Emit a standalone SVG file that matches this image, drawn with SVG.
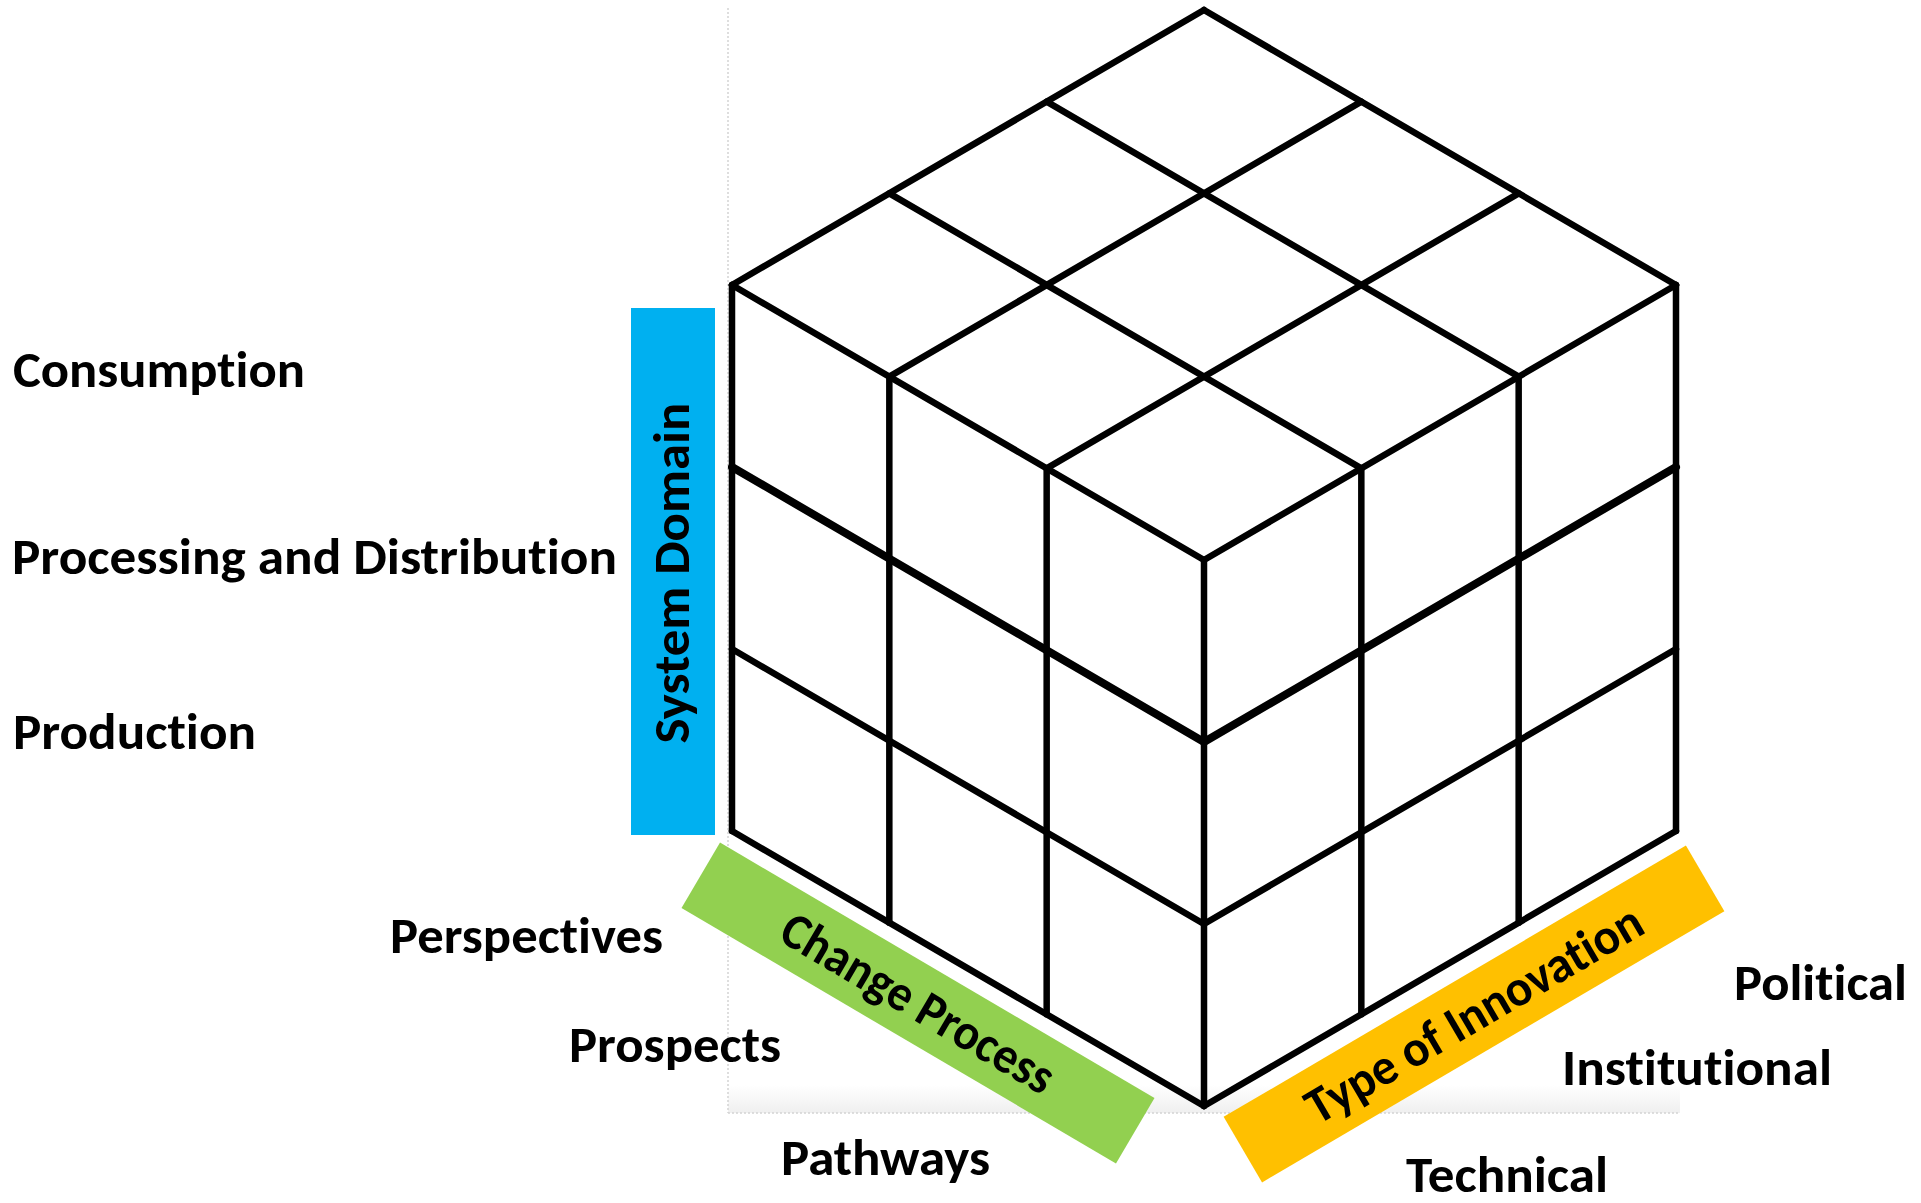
<svg xmlns="http://www.w3.org/2000/svg" width="1921" height="1203" viewBox="0 0 1921 1203">
<style>
.ln{stroke:#000;stroke-width:6.5;fill:none;stroke-linecap:round;stroke-linejoin:miter}
.thick{stroke-width:8}
.lbl{font-family:Calibri,Carlito,"Open Sans","Noto Sans",sans-serif;font-weight:700;font-size:51px;fill:#000;font-variant-ligatures:none}
.frame{stroke:#d4d4d4;stroke-width:1.5;stroke-dasharray:2 2;fill:none}
</style>
<defs>
<linearGradient id="shade" x1="0" y1="0" x2="0" y2="1">
<stop offset="0" stop-color="#ffffff"/>
<stop offset="1" stop-color="#efefef"/>
</linearGradient>
</defs>
<rect width="1921" height="1203" fill="#fff"/>
<g id="frame">
<rect x="728" y="1085" width="952" height="28" fill="url(#shade)"/>
<line class="frame" x1="728" y1="8" x2="728" y2="1113"/>
<line class="frame" x1="728" y1="1113" x2="1680" y2="1113"/>
</g>
<g id="bar-system-domain">
<rect x="631" y="308" width="84" height="527" fill="#00B0F0"/>
<text class="lbl" transform="translate(689,573) rotate(-90)" x="0" y="0" text-anchor="middle" textLength="341" lengthAdjust="spacingAndGlyphs">System Domain</text>
</g>
<g id="bar-change-process">
<rect x="-252" y="-38" width="504" height="76" fill="#92D050" transform="translate(918,1003) rotate(30.45)"/>
<text class="lbl" transform="translate(918,1003) rotate(30.45)" x="0" y="17" text-anchor="middle" textLength="308" lengthAdjust="spacingAndGlyphs">Change Process</text>
</g>
<g id="bar-type-of-innovation">
<rect x="-268" y="-38" width="536" height="76" fill="#FFC000" transform="translate(1474,1014) rotate(-30.4)"/>
<text class="lbl" transform="translate(1474,1014) rotate(-30.4)" x="0" y="17" text-anchor="middle" textLength="382" lengthAdjust="spacingAndGlyphs">Type of Innovation</text>
</g>
<g id="cube">
<g id="top-face">
<path class="ln" d="M1204 10 L732 285 M1361.33 101.67 L889.33 376.67 M1518.67 193.33 L1046.67 468.33 M1676 285 L1204 560"/>
<path class="ln" d="M1204 10 L1676 285 M1046.67 101.67 L1518.67 376.67 M889.33 193.33 L1361.33 468.33 M732 285 L1204 560"/>
</g>
<g id="left-face">
<path class="ln" d="M732 285 V831 M889.33 376.67 V922.67 M1046.67 468.33 V1014.33 M1204 560 V1106"/>
<path class="ln thick" d="M732 467 L1204 742"/>
<path class="ln" d="M732 649 L1204 924 M732 831 L1204 1106"/>
</g>
<g id="right-face">
<path class="ln" d="M1361.33 468.33 V1014.33 M1518.67 376.67 V922.67 M1676 285 V831"/>
<path class="ln thick" d="M1204 742 L1676 467"/>
<path class="ln" d="M1204 924 L1676 649 M1204 1106 L1676 831"/>
</g>
</g>
<g id="labels">
<g id="label-consumption"><text class="lbl" x="13" y="387" textLength="292" lengthAdjust="spacingAndGlyphs">Consumption</text></g>
<g id="label-processing"><text class="lbl" x="12" y="574" textLength="605" lengthAdjust="spacingAndGlyphs">Processing and Distribution</text></g>
<g id="label-production"><text class="lbl" x="13" y="749" textLength="243" lengthAdjust="spacingAndGlyphs">Production</text></g>
<g id="label-perspectives"><text class="lbl" x="390" y="953" textLength="273" lengthAdjust="spacingAndGlyphs">Perspectives</text></g>
<g id="label-prospects"><text class="lbl" x="569" y="1062" textLength="212" lengthAdjust="spacingAndGlyphs">Prospects</text></g>
<g id="label-pathways"><text class="lbl" x="781" y="1175" textLength="209" lengthAdjust="spacingAndGlyphs">Pathways</text></g>
<g id="label-political"><text class="lbl" x="1734" y="1000" textLength="173" lengthAdjust="spacingAndGlyphs">Political</text></g>
<g id="label-institutional"><text class="lbl" x="1562" y="1085" textLength="270" lengthAdjust="spacingAndGlyphs">Institutional</text></g>
<g id="label-technical"><text class="lbl" x="1406" y="1192" textLength="202" lengthAdjust="spacingAndGlyphs">Technical</text></g>
</g>
</svg>
